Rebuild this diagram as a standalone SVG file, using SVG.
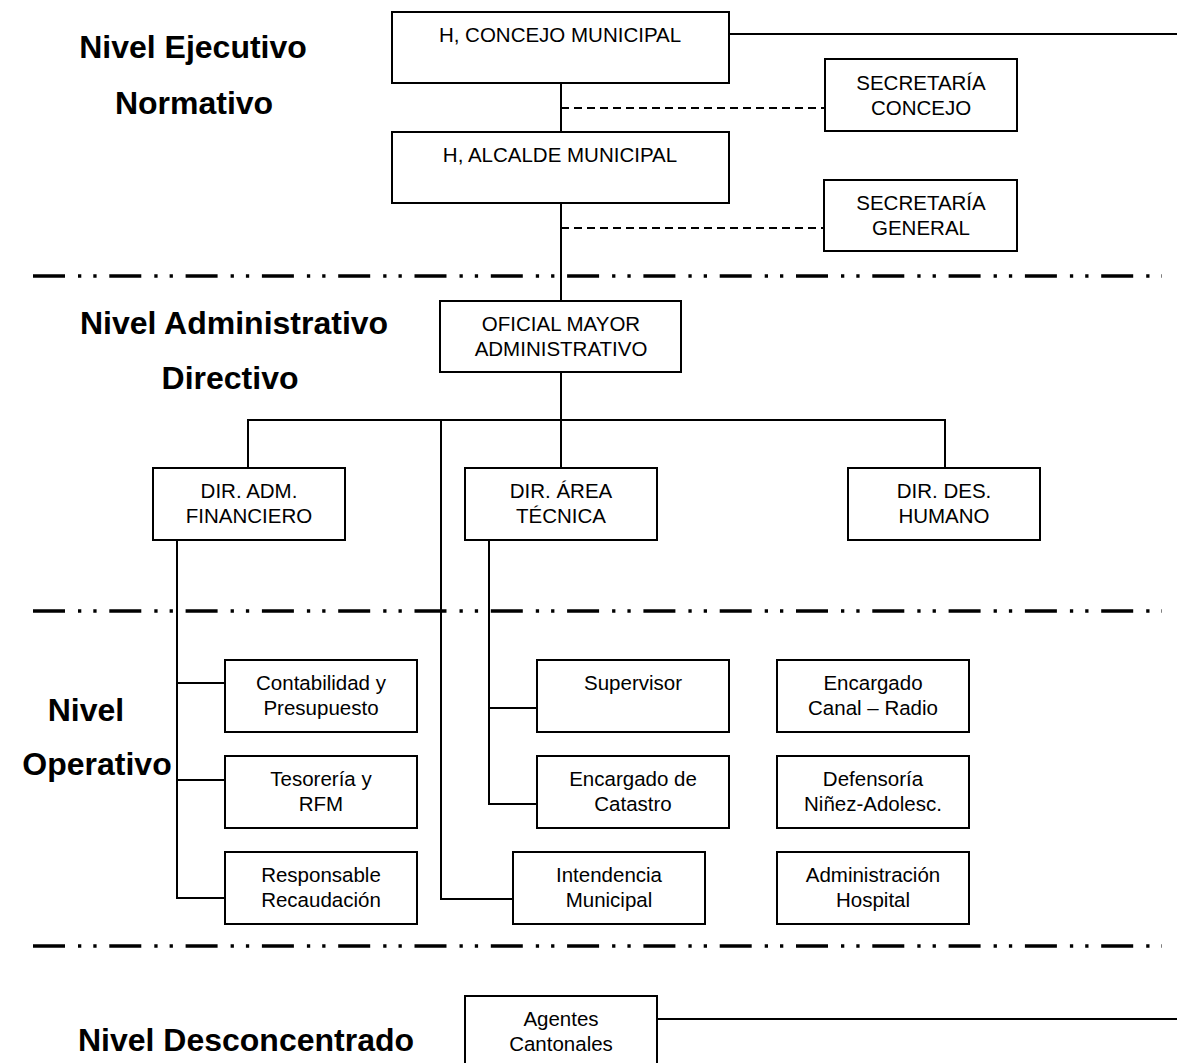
<svg xmlns="http://www.w3.org/2000/svg" width="1177" height="1063" viewBox="0 0 1177 1063">
<style>
.box{fill:#fff;stroke:#000;stroke-width:2}
.t{font-family:"Liberation Sans",Arial,sans-serif;font-size:20.5px;text-anchor:middle;fill:#000}
.h{font-family:"Liberation Sans",Arial,sans-serif;font-size:32px;font-weight:bold;text-anchor:middle;fill:#000}
.ln{stroke:#000;stroke-width:2;fill:none}
.dash{stroke:#000;stroke-width:2;stroke-dasharray:8 5;fill:none}
.sep{stroke:#000;stroke-width:3.5;stroke-dasharray:32 13 3.3 12 3.3 12.7;fill:none}
</style>
<rect width="1177" height="1063" fill="#fff"/>
<g id="levels">
<path class="sep" d="M33,276 H1162"/>
<path class="sep" d="M33,611 H1162"/>
<path class="sep" d="M33,946 H1162"/>
<text class="h" x="193" y="58">Nivel Ejecutivo</text>
<text class="h" x="194" y="114">Normativo</text>
<text class="h" x="234" y="334">Nivel Administrativo</text>
<text class="h" x="230" y="389">Directivo</text>
<text class="h" x="86" y="721">Nivel</text>
<text class="h" x="97" y="775">Operativo</text>
<text class="h" x="246" y="1051">Nivel Desconcentrado</text>
</g>
<g id="connectors">
<path class="ln" d="M729,34 H1177"/>
<path class="ln" d="M561,83 V132"/>
<path class="dash" d="M561,108 H825"/>
<path class="ln" d="M561,203 V301"/>
<path class="dash" d="M561,228 H824"/>
<path class="ln" d="M561,372 V468"/>
<path class="ln" d="M248,468 V420 H945 V468"/>
<path class="ln" d="M441,420 V899 H513"/>
<path class="ln" d="M177,540 V898 H225 M177,683 H225 M177,780 H225"/>
<path class="ln" d="M489,540 V804 H537 M489,708 H537"/>
<path class="ln" d="M657,1019 H1177"/>
</g>
<g id="concejo"><rect class="box" x="392" y="12" width="337" height="71"/><text class="t" x="560" y="42">H, CONCEJO MUNICIPAL</text></g>
<g id="sec-concejo"><rect class="box" x="825" y="59" width="192" height="72"/><text class="t" x="921" y="90">SECRETARÍA</text><text class="t" x="921" y="115">CONCEJO</text></g>
<g id="alcalde"><rect class="box" x="392" y="132" width="337" height="71"/><text class="t" x="560" y="162">H, ALCALDE MUNICIPAL</text></g>
<g id="sec-general"><rect class="box" x="824" y="180" width="193" height="71"/><text class="t" x="921" y="210">SECRETARÍA</text><text class="t" x="921" y="235">GENERAL</text></g>
<g id="oficial-mayor"><rect class="box" x="440" y="301" width="241" height="71"/><text class="t" x="561" y="331">OFICIAL MAYOR</text><text class="t" x="561" y="356">ADMINISTRATIVO</text></g>
<g id="dir-adm"><rect class="box" x="153" y="468" width="192" height="72"/><text class="t" x="249" y="498">DIR. ADM.</text><text class="t" x="249" y="523">FINANCIERO</text></g>
<g id="dir-area"><rect class="box" x="465" y="468" width="192" height="72"/><text class="t" x="561" y="498">DIR. ÁREA</text><text class="t" x="561" y="523">TÉCNICA</text></g>
<g id="dir-des"><rect class="box" x="848" y="468" width="192" height="72"/><text class="t" x="944" y="498">DIR. DES.</text><text class="t" x="944" y="523">HUMANO</text></g>
<g id="contabilidad"><rect class="box" x="225" y="660" width="192" height="72"/><text class="t" x="321" y="690">Contabilidad y</text><text class="t" x="321" y="715">Presupuesto</text></g>
<g id="tesoreria"><rect class="box" x="225" y="756" width="192" height="72"/><text class="t" x="321" y="786">Tesorería y</text><text class="t" x="321" y="811">RFM</text></g>
<g id="responsable"><rect class="box" x="225" y="852" width="192" height="72"/><text class="t" x="321" y="882">Responsable</text><text class="t" x="321" y="907">Recaudación</text></g>
<g id="supervisor"><rect class="box" x="537" y="660" width="192" height="72"/><text class="t" x="633" y="690">Supervisor</text></g>
<g id="catastro"><rect class="box" x="537" y="756" width="192" height="72"/><text class="t" x="633" y="786">Encargado de</text><text class="t" x="633" y="811">Catastro</text></g>
<g id="intendencia"><rect class="box" x="513" y="852" width="192" height="72"/><text class="t" x="609" y="882">Intendencia</text><text class="t" x="609" y="907">Municipal</text></g>
<g id="canal-radio"><rect class="box" x="777" y="660" width="192" height="72"/><text class="t" x="873" y="690">Encargado</text><text class="t" x="873" y="715">Canal – Radio</text></g>
<g id="defensoria"><rect class="box" x="777" y="756" width="192" height="72"/><text class="t" x="873" y="786">Defensoría</text><text class="t" x="873" y="811">Niñez-Adolesc.</text></g>
<g id="hospital"><rect class="box" x="777" y="852" width="192" height="72"/><text class="t" x="873" y="882">Administración</text><text class="t" x="873" y="907">Hospital</text></g>
<g id="agentes"><rect class="box" x="465" y="996" width="192" height="80"/><text class="t" x="561" y="1026">Agentes</text><text class="t" x="561" y="1051">Cantonales</text></g>
</svg>
